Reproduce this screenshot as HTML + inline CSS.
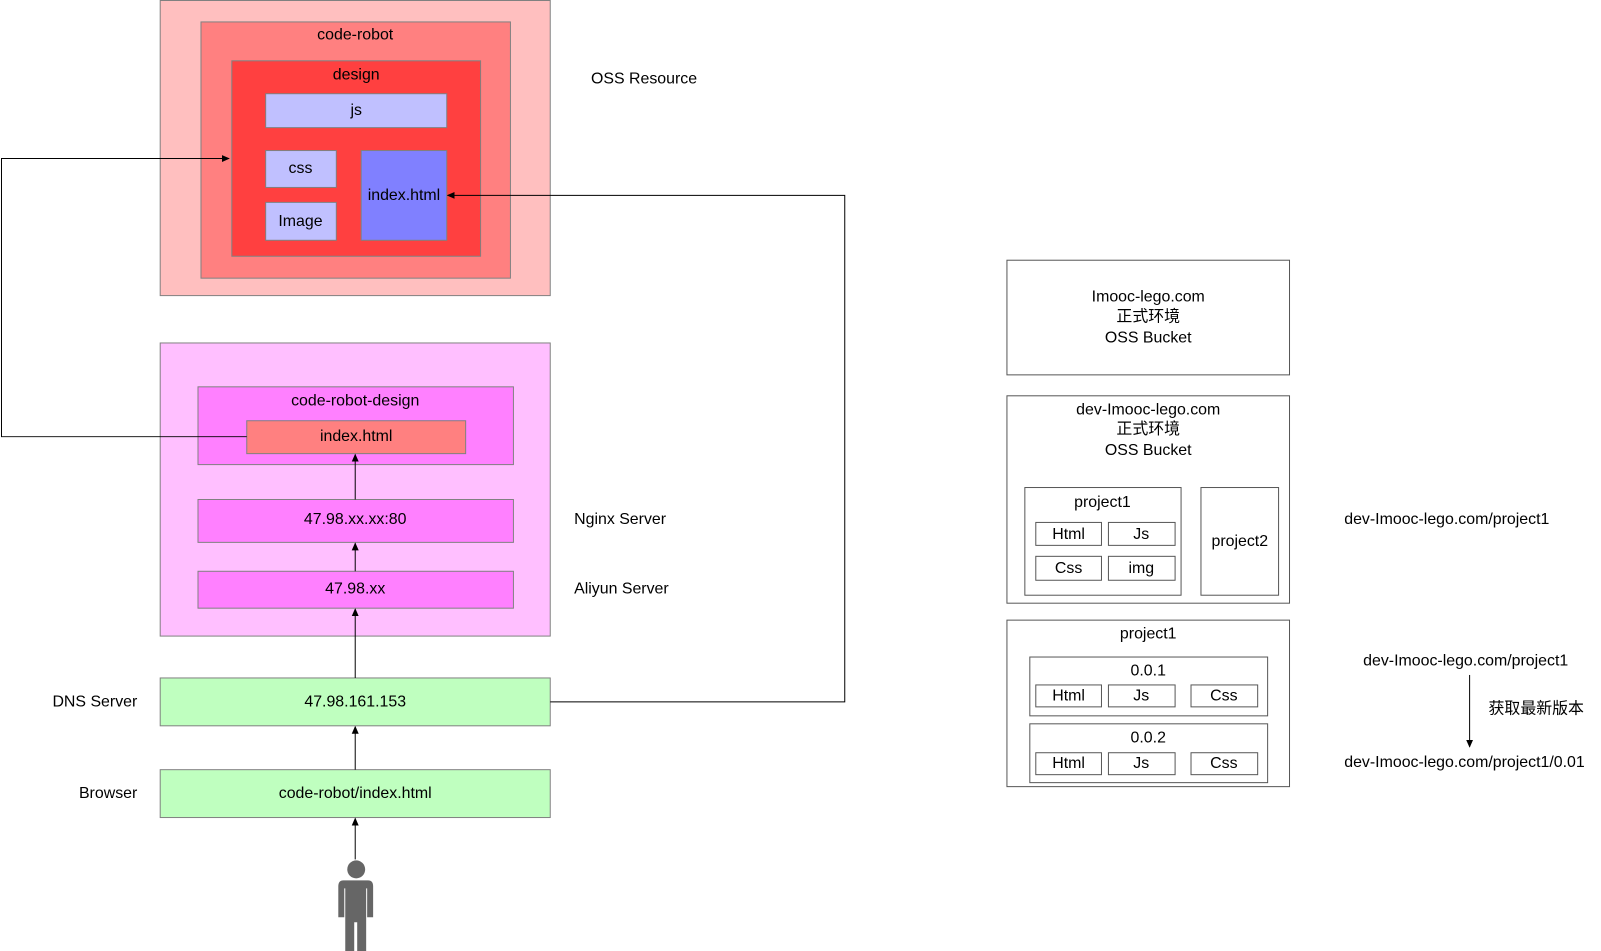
<!DOCTYPE html>
<html><head><meta charset="utf-8"><style>
html,body{margin:0;padding:0;background:#fff;}
svg{display:block;}
text{font-family:"Liberation Sans","Noto Sans CJK SC",sans-serif;font-size:16px;fill:#000;dominant-baseline:central;}
</style></head><body>
<svg width="1601" height="951" viewBox="0 0 1601 951" xmlns="http://www.w3.org/2000/svg">
<defs><marker id="a" markerWidth="8" markerHeight="8" refX="7" refY="4" orient="auto" markerUnits="userSpaceOnUse"><path d="M0,0.5 L8,4 L0,7.5 Z" fill="#000"/></marker></defs>
<g transform="scale(0.995 0.997)">
<g stroke="#808080" stroke-width="1">
<rect x="161" y="0.5" width="392" height="296" fill="#ffbfbf"/>
<rect x="202" y="22" width="311" height="257" fill="#ff8080"/>
<rect x="233" y="61" width="250" height="196" fill="#ff4040"/>
<rect x="267" y="94" width="182" height="34" fill="#c0c0ff"/>
<rect x="267" y="151" width="71" height="37" fill="#c0c0ff"/>
<rect x="267" y="203" width="71" height="38" fill="#c0c0ff"/>
<rect x="363" y="151" width="86" height="90" fill="#8080ff"/>
<rect x="161" y="344" width="392" height="294" fill="#ffbfff"/>
<rect x="199" y="388" width="317" height="78" fill="#ff80ff"/>
<rect x="248" y="422" width="220" height="33" fill="#ff8080"/>
<rect x="199" y="501" width="317" height="43" fill="#ff80ff"/>
<rect x="199" y="573" width="317" height="37" fill="#ff80ff"/>
<rect x="161" y="680" width="392" height="48" fill="#bfffbf"/>
<rect x="161" y="772" width="392" height="48" fill="#bfffbf"/>
</g>
<g fill="#fff" stroke="#555">
<rect x="1012" y="261" width="284" height="115"/>
<rect x="1012" y="397" width="284" height="208"/>
<rect x="1030" y="489" width="157" height="108"/>
<rect x="1207" y="489" width="78" height="108"/>
<rect x="1041" y="524" width="66" height="23"/><rect x="1114" y="524" width="67" height="23"/>
<rect x="1041" y="558" width="66" height="24"/><rect x="1114" y="558" width="67" height="24"/>
<rect x="1012" y="622" width="284" height="167"/>
<rect x="1035" y="659" width="239" height="59"/>
<rect x="1041" y="687" width="66" height="22"/><rect x="1114" y="687" width="67" height="22"/><rect x="1197" y="687" width="67" height="22"/>
<rect x="1035" y="726" width="239" height="59"/>
<rect x="1041" y="755" width="66" height="22"/><rect x="1114" y="755" width="67" height="22"/><rect x="1197" y="755" width="67" height="22"/>
</g>
<g fill="none" stroke="#000" stroke-width="1">
<path d="M248,438 H1.5 V159 H230" marker-end="url(#a)"/>
<path d="M553,704 H849 V196 H450" marker-end="url(#a)"/>
<path d="M357,501 V456" marker-end="url(#a)"/>
<path d="M357,573 V545" marker-end="url(#a)"/>
<path d="M357,680 V611" marker-end="url(#a)"/>
<path d="M357,772 V729" marker-end="url(#a)"/>
<path d="M357,862 V821" marker-end="url(#a)"/>
<path d="M1477,677 V749" marker-end="url(#a)"/>
</g>
<g fill="#666">
<circle cx="358" cy="872" r="9"/>
<path d="M345,883 Q340,883 340,889 V920 H346 V891 H347 V960 H356 V925 H359 V960 H368 V891 H369 V920 H375 V889 Q375,883 370,883 Z"/>
</g>
<g text-anchor="middle">
<text x="357" y="35">code-robot</text>
<text x="358" y="75">design</text>
<text x="358" y="111">js</text>
<text x="302" y="169">css</text>
<text x="302" y="222">Image</text>
<text x="406" y="196">index.html</text>
<text x="357" y="402">code-robot-design</text>
<text x="358" y="438">index.html</text>
<text x="357" y="521">47.98.xx.xx:80</text>
<text x="357" y="591">47.98.xx</text>
<text x="357" y="704">47.98.161.153</text>
<text x="357" y="796">code-robot/index.html</text>
<text x="1154" y="298">Imooc-lego.com</text>
<text x="1154" y="318">正式环境</text>
<text x="1154" y="339">OSS Bucket</text>
<text x="1154" y="411">dev-Imooc-lego.com</text>
<text x="1154" y="431">正式环境</text>
<text x="1154" y="452">OSS Bucket</text>
<text x="1108" y="504">project1</text>
<text x="1074" y="536">Html</text><text x="1147" y="536">Js</text>
<text x="1074" y="570">Css</text><text x="1147" y="570">img</text>
<text x="1246" y="543">project2</text>
<text x="1154" y="636">project1</text>
<text x="1154" y="673">0.0.1</text>
<text x="1074" y="698">Html</text><text x="1147" y="698">Js</text><text x="1230" y="698">Css</text>
<text x="1154" y="740">0.0.2</text>
<text x="1074" y="766">Html</text><text x="1147" y="766">Js</text><text x="1230" y="766">Css</text>
</g>
<text x="594" y="79">OSS Resource</text>
<text x="577" y="521">Nginx Server</text>
<text x="577" y="591">Aliyun Server</text>
<text x="138" y="704" text-anchor="end">DNS Server</text>
<text x="138" y="796" text-anchor="end">Browser</text>
<text x="1351" y="521">dev-Imooc-lego.com/project1</text>
<text x="1370" y="663">dev-Imooc-lego.com/project1</text>
<text x="1496" y="711">获取最新版本</text>
<text x="1351" y="765">dev-Imooc-lego.com/project1/0.01</text>
</g>
</svg>
</body></html>
